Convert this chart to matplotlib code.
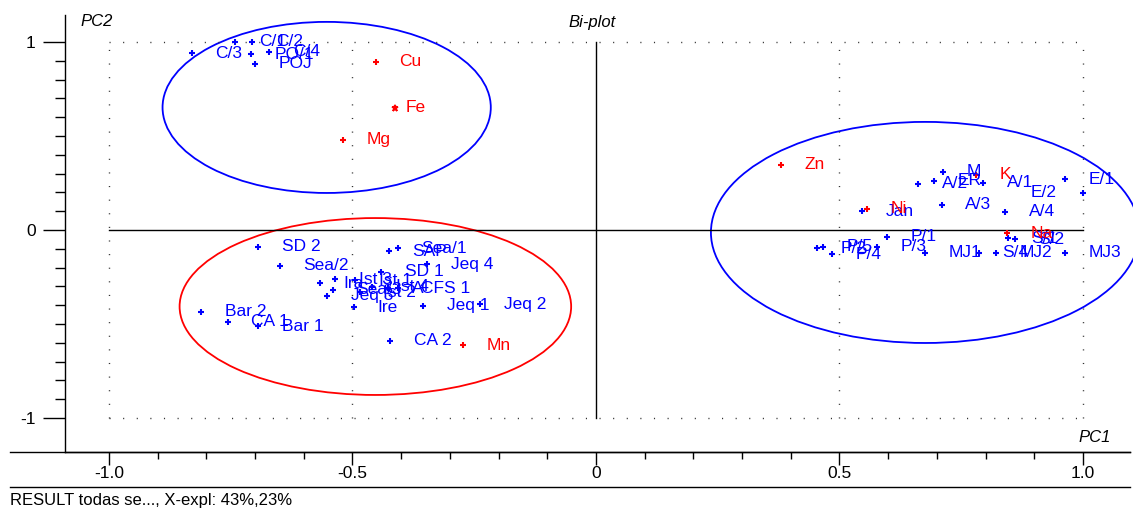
import matplotlib
matplotlib.use("Agg")
import matplotlib.pyplot as plt
from matplotlib.patches import Ellipse
from matplotlib.lines import Line2D
import numpy as np

plt.rcParams['font.family'] = ['Liberation Sans', 'DejaVu Sans']

# ---- data: scores (blue) ----
score_labels = ["C/3", "C/1", "C/2", "PO/1", "C/4", "POJ",
                "Jan", "A/2", "ER", "M", "A/3", "A/1", "E/1", "E/2", "A/4",
                "P/1", "P/2", "P/5", "P/4", "P/3", "MJ1", "S/4", "MJ2", "S/1", "S/2", "MJ3",
                "SD 2", "Sea/2", "Ira", "Ist 3", "Sea/3", "Jeq 3", "Ist 1", "Ist 2", "Ist 4",
                "A", "CFS 1", "Ire", "SD 1", "Jeq 4", "SAP", "Sea/1", "Jeq 1", "Jeq 2",
                "CA 2", "Bar 2", "CA 1", "Bar 1"]
score_pc1 = [-0.830, -0.741, -0.706, -0.708, -0.671, -0.700,
             0.546, 0.661, 0.694, 0.713, 0.710, 0.795, 0.963, 1.000, 0.840,
             0.598, 0.454, 0.466, 0.485, 0.577, 0.676, 0.786, 0.821, 0.846, 0.860, 0.963,
             -0.694, -0.649, -0.567, -0.536, -0.540, -0.552, -0.495, -0.485, -0.460,
             -0.427, -0.407, -0.497, -0.441, -0.347, -0.425, -0.407, -0.355, -0.238,
             -0.423, -0.811, -0.756, -0.694]
score_pc2 = [0.941, 1.000, 1.000, 0.936, 0.947, 0.883,
             0.101, 0.245, 0.261, 0.309, 0.133, 0.250, 0.271, 0.197, 0.096,
             -0.037, -0.096, -0.090, -0.128, -0.090, -0.122, -0.122, -0.122, -0.043, -0.048, -0.122,
             -0.090, -0.191, -0.282, -0.261, -0.319, -0.351, -0.266, -0.330, -0.303,
             -0.309, -0.309, -0.410, -0.223, -0.181, -0.112, -0.096, -0.404, -0.394,
             -0.590, -0.436, -0.489, -0.511]

# ---- data: loadings (red) ----
load_labels = ["Cu", "Fe", "Mg", "Zn", "Ni", "K", "Na", "Mn"]
load_pc1 = [-0.452, -0.413, -0.520, 0.380, 0.556, 0.780, 0.844, -0.273]
load_pc2 = [0.894, 0.649, 0.479, 0.346, 0.112, 0.293, -0.016, -0.612]

# ---- group ellipses ----
ell_cx = [-0.553, -0.453, 0.676]
ell_cy = [0.652, -0.407, -0.013]
ell_w = [0.674, 0.804, 0.880]
ell_h = [0.910, 0.941, 1.176]
ell_colors = ["#0000FF", "#FF0000", "#0000FF"]

x_ticks = [-1.0, -0.5, 0.0, 0.5, 1.0]
x_ticklabels = ["-1.0", "-0.5", "0", "0.5", "1.0"]
y_ticks = [-1, 0, 1]
y_ticklabels = ["-1", "0", "1"]

W, H = 1133, 514
fig = plt.figure(figsize=(W / 100, H / 100), dpi=100)
ax = fig.add_axes([65 / W, (H - 452) / H, (1130 - 65) / W, (452 - 15) / H])
ax.set_xlim(-1.0903, 1.0965)
ax.set_ylim(-1.1809, 1.1436)

for s in ("top", "right"):
    ax.spines[s].set_visible(False)
ax.spines["left"].set_linewidth(1.0)
ax.spines["bottom"].set_linewidth(1.0)

ax.set_xticks(x_ticks)
ax.set_xticklabels(x_ticklabels)
ax.set_xticks(np.arange(-1.0, 1.05, 0.1), minor=True)
ax.set_yticks(y_ticks)
ax.set_yticklabels(y_ticklabels)
ax.set_yticks(np.arange(-1.0, 1.05, 0.1), minor=True)
ax.tick_params(axis="x", which="major", direction="out", length=9, width=1.0, labelsize=12.5, pad=1)
ax.tick_params(axis="x", which="minor", direction="out", length=5, width=1.0)
ax.tick_params(axis="y", which="major", direction="out", length=16, width=1.0, labelsize=12.5, pad=5)
ax.tick_params(axis="y", which="minor", direction="out", length=7, width=1.0)

# dotted frame/grid
dot = dict(color="#333333", lw=1.0, linestyle=(0, (0.8, 9.0)))
for yy in (1, -1):
    ax.plot([-1, 1], [yy, yy], **dot)
for xx in (-1, -0.5, 0.5, 1):
    ax.plot([xx, xx], [-1, 1], **dot)
ax.plot([0, 0], [-1, 1], color="black", lw=1.0)
ax.plot([-1, 1], [0, 0], color="black", lw=1.0)

# ellipses
for cx, cy, w, h, c in zip(ell_cx, ell_cy, ell_w, ell_h, ell_colors):
    ax.add_patch(Ellipse((cx, cy), w, h, fill=False, edgecolor=c, lw=1.3, clip_on=False))

# scores
ax.plot(score_pc1, score_pc2, linestyle="none", marker="+", color="#0000FF", ms=5, mew=1.5)
for lab, x, y in zip(score_labels, score_pc1, score_pc2):
    if lab == "E/2":
        ax.annotate(lab, (x, y), xytext=(-19, 0), textcoords="offset points",
                    ha="right", va="center", color="#0000FF", fontsize=12.5)
    else:
        ax.annotate(lab, (x, y), xytext=(17, 0), textcoords="offset points",
                    ha="left", va="center", color="#0000FF", fontsize=12.5)

# loadings
for lab, x, y in zip(load_labels, load_pc1, load_pc2):
    mk = "*" if lab == "Fe" else "+"
    ax.plot([x], [y], linestyle="none", marker=mk, color="#FF0000", ms=5, mew=1.2 if mk == "*" else 1.5)
    off = 8 if lab == "Fe" else 17
    ax.annotate(lab, (x, y), xytext=(off, 0), textcoords="offset points",
                ha="left", va="center", color="#FF0000", fontsize=12.5)

# axis names and title
fig.text(80 / W, 1 - 22 / H, "PC2", style="italic", fontsize=12, va="center", ha="left")
fig.text(568 / W, 1 - 22 / H, "Bi-plot", style="italic", fontsize=12, va="center", ha="left")
fig.text(1078 / W, 1 - 437 / H, "PC1", style="italic", fontsize=12, va="center", ha="left")

# bottom lines and footer
fig.add_artist(Line2D([10 / W, 1130 / W], [(H - 452) / H] * 2, color="black", lw=1.0))
fig.add_artist(Line2D([10 / W, 1130 / W], [(H - 487) / H] * 2, color="black", lw=1.0))
fig.text(10 / W, 1 - 500 / H, "RESULT todas se..., X-expl: 43%,23%", fontsize=12, va="center", ha="left")

fig.savefig("out.png", dpi=100)
